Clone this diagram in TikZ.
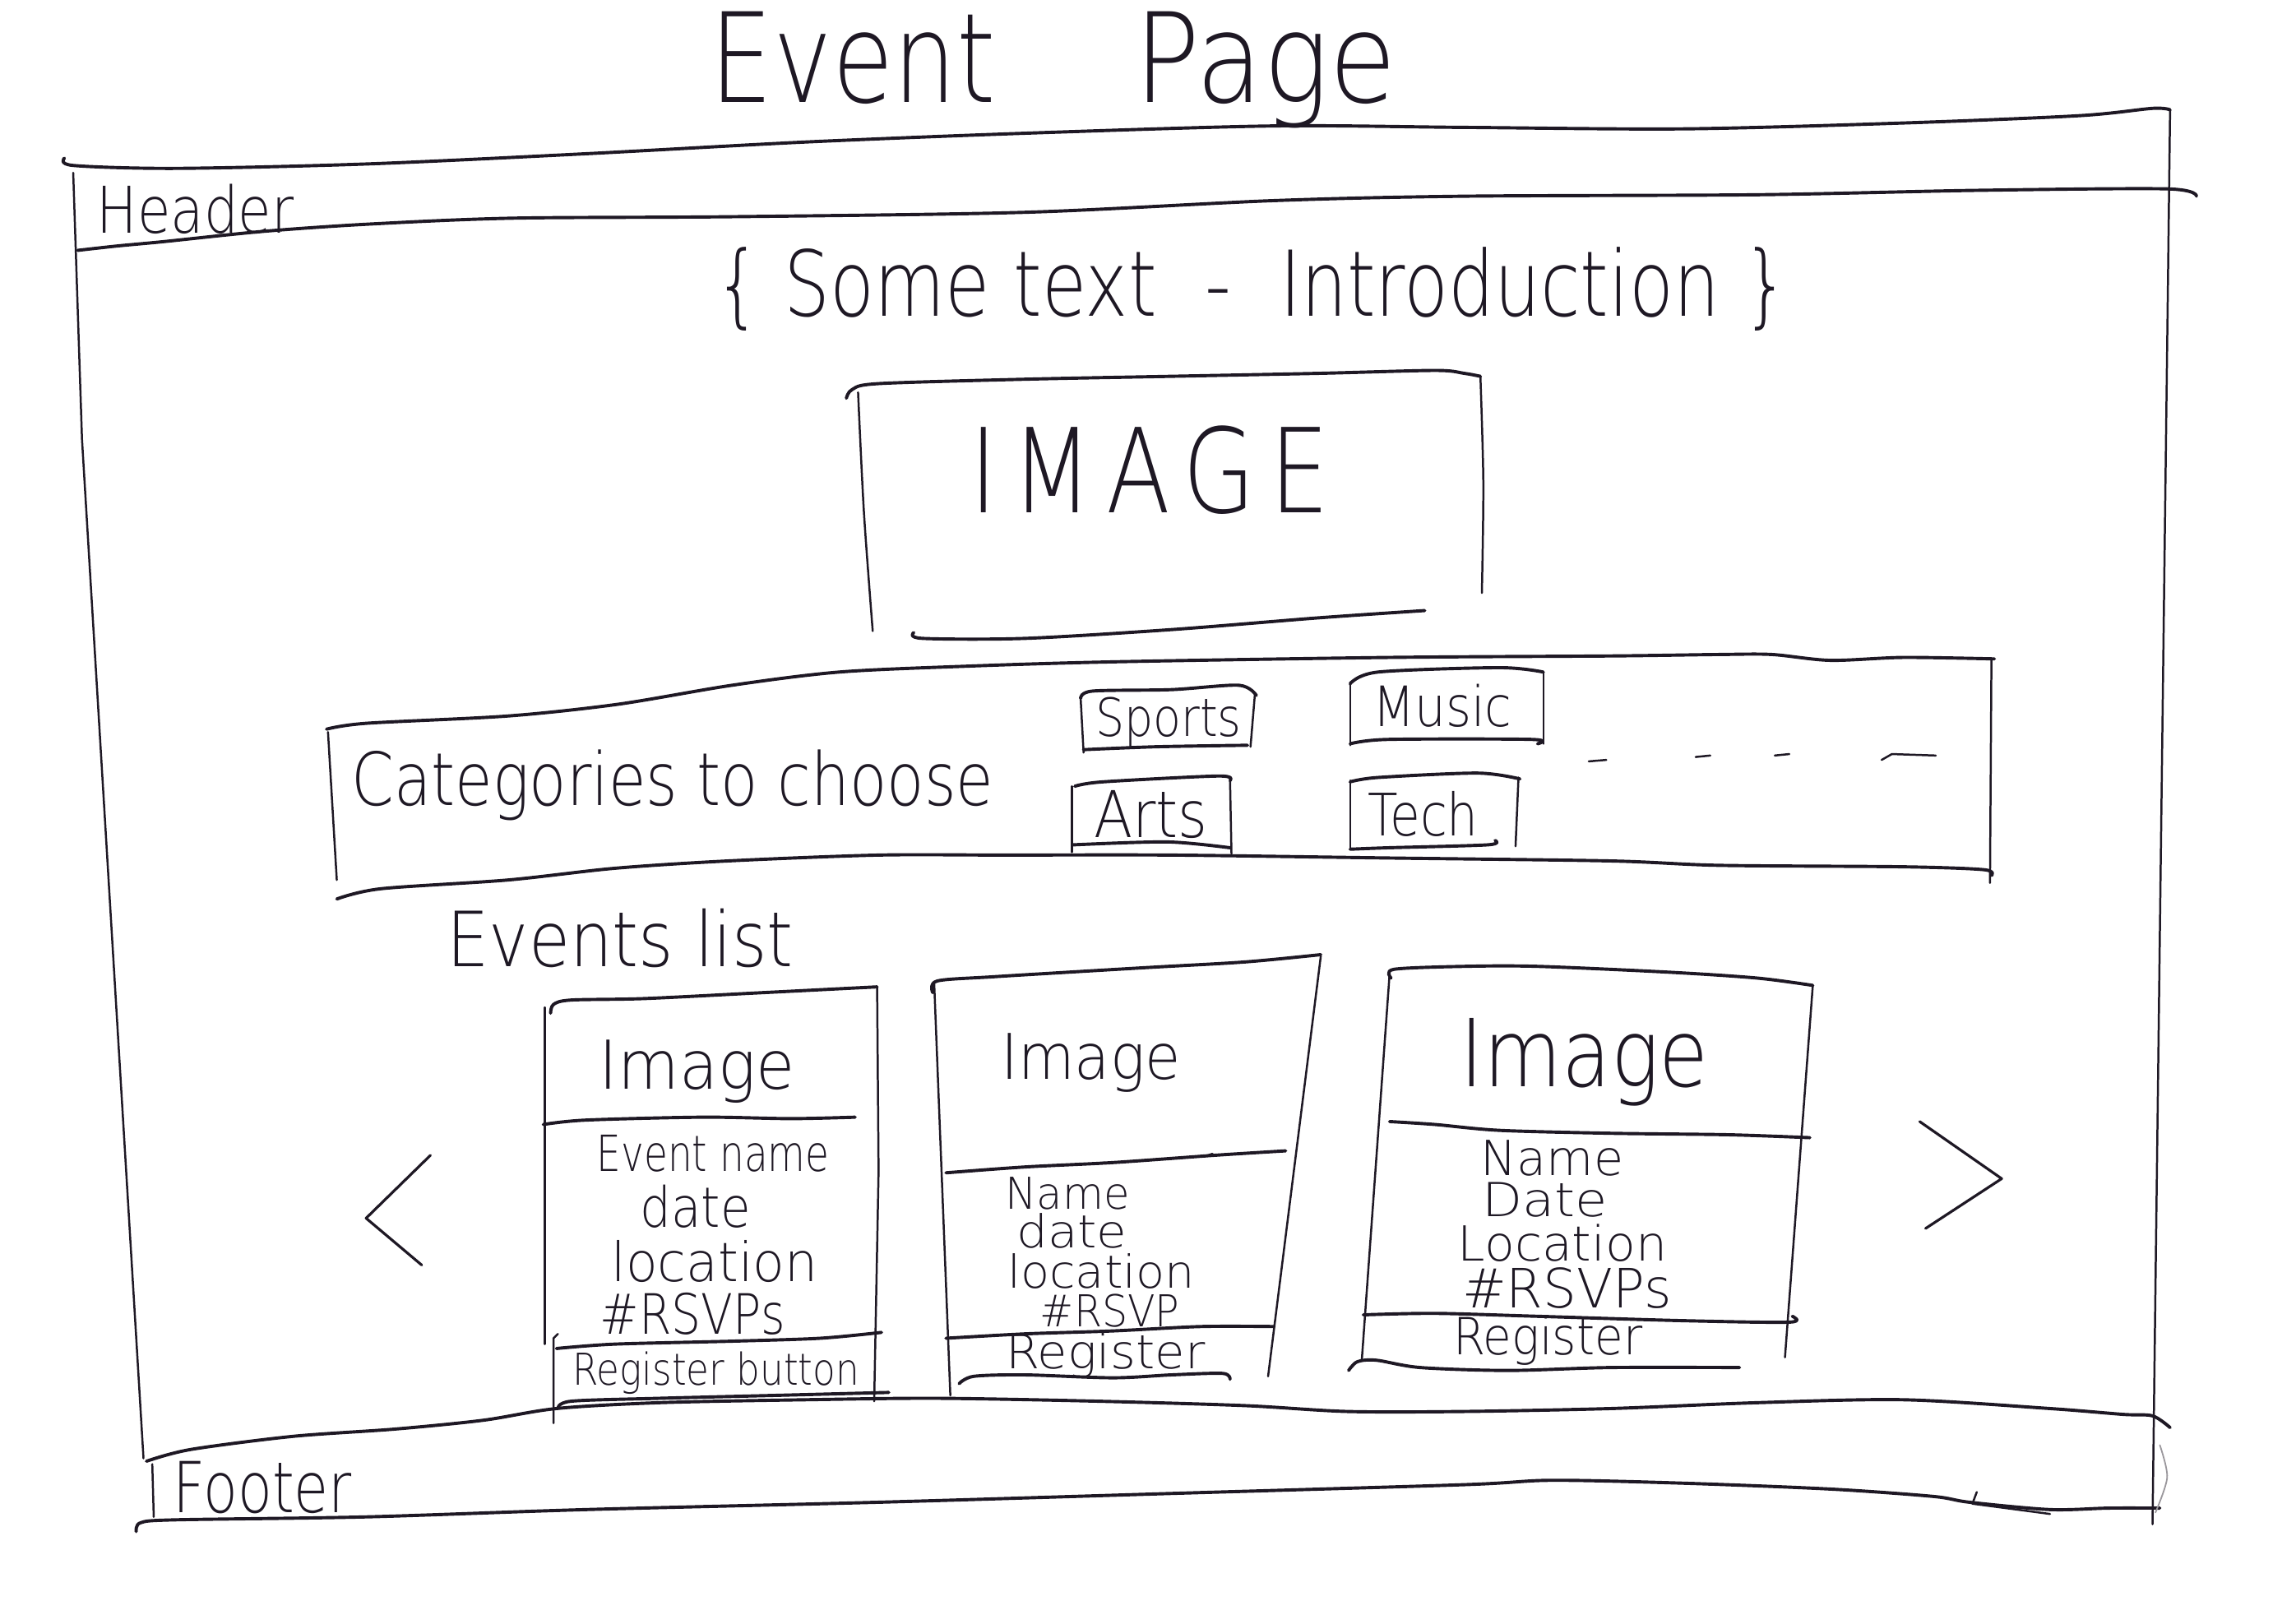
\documentclass[tikz,border=0pt]{standalone}
\usepackage{fontspec}
\usepackage{graphicx}
\setmainfont{DejaVu Sans ExtraLight}[FakeStretch=0.8]
\newcommand{\penfont}[1]{\fontsize{#1}{#1}\selectfont}
\newcommand{\hstretch}[2]{\scalebox{#1}[1]{#2}}
\definecolor{inkc}{HTML}{1E1824}
\begin{document}
\begin{tikzpicture}[x=1pt,y=-1pt,
  ink/.style={draw=inkc, line width=2.2pt, line cap=round, line join=round},
  side/.style={draw=inkc, line width=1.4pt, line cap=round, line join=round},
  faint/.style={draw=inkc!45, line width=1pt, line cap=round},
  lab/.style={inner sep=0pt, text=inkc, anchor=base},
  labw/.style={lab, anchor=base west}]
\useasboundingbox[fill=white] (0,0) rectangle (1568,1109);

% ---------- title ----------
\node[labw, font=\penfont{85}] (title) at (485,70) {Event\hspace{95pt}\hstretch{1.1}{Page}};

% ---------- page frame ----------
\draw[ink] plot[smooth, tension=.5] coordinates {(44,108) (50,113) (120,115) (250,112) (400,105) (550,97) (700,91) (870,86) (1000,87) (1150,88) (1300,84) (1420,79) (1470,74) (1482,75)};
\draw[side] (50,118) -- (56,300) -- (98,996);
\draw[side] (1482,75) -- (1470,1041);

% header band
\draw[ink] plot[smooth, tension=.5] coordinates {(53,171) (80,168) (112,165) (180,158) (253,153) (350,149) (500,148) (700,145) (870,137) (1000,134) (1200,133) (1350,130) (1480,129) (1500,134)};
\node[labw, font=\penfont{44}] (header) at (66,159) {\hstretch{1.05}{Header}};

% introduction
\node[lab, font=\penfont{62}] (intro) at (855,216) {\{ Some text \;-\; Introduction \}};

% hero image box
\draw[ink] plot[smooth, tension=.5] coordinates {(578,272) (582,266) (600,262) (700,259) (800,257) (900,255) (980,253) (1000,255) (1011,257)};
\draw[side] plot[smooth] coordinates {(1011,257) (1013,330) (1012,405)};
\draw[side] plot[smooth] coordinates {(586,268) (590,350) (596,431)};
\draw[ink] plot[smooth, tension=.5] coordinates {(624,432) (630,436) (700,436) (800,430) (900,422) (973,417)};
\node[lab, font=\penfont{80}\addfontfeature{LetterSpace=12}] (hero) at (785,350) {IMAGE};

% ---------- categories ----------
\draw[ink] plot[smooth, tension=.5] coordinates {(223,498) (250,494) (347,489) (422,481) (500,468) (573,459) (660,455) (761,452) (949,449) (1100,448) (1174,447) (1210,447) (1250,451) (1300,449) (1362,450)};
\draw[side] (1360,450) -- (1359,603);
\draw[side] (224,500) -- (230,601);
\draw[ink] plot[smooth, tension=.5] coordinates {(230,614) (260,607) (347,601) (420,593) (497,588) (600,584) (686,584) (800,584) (949,586) (1100,588) (1174,591) (1300,592) (1355,594) (1360,598)};
\node[labw, font=\penfont{50}] (cats) at (240,550) {\hstretch{1.04}{Categories to choose}};

% Sports
\draw[ink] plot[smooth, tension=.5] coordinates {(738,477) (746,472) (800,471) (846,468) (858,475)};
\draw[side] (738,477) -- (740,514);
\draw[side] (857,474) -- (854,510);
\draw[ink] plot[smooth, tension=.5] coordinates {(740,512) (790,510) (852,509)};
\node[lab, font=\penfont{36}] (sports) at (798,503) {\hstretch{1.08}{Sports}};
% Music
\draw[ink] plot[smooth, tension=.5] coordinates {(922,467) (941,459) (1024,456) (1054,459)};
\draw[side] (1054,459) -- (1054,508);
\draw[side] (922,466) -- (922,509);
\draw[ink] plot[smooth, tension=.5] coordinates {(922,508) (948,505) (1046,505) (1050,508)};
\node[lab, font=\penfont{38}] (music) at (985,496) {\hstretch{1.1}{Music}};
% Arts
\draw[ink] plot[smooth, tension=.5] coordinates {(734,537) (753,534) (832,530) (840,533)};
\draw[side] (732,537) -- (732,582);
\draw[side] (840,532) -- (841,583);
\draw[ink] plot[smooth, tension=.5] coordinates {(733,577) (797,575) (840,579)};
\node[lab, font=\penfont{44}] (arts) at (786,572) {\hstretch{1.1}{Arts}};
% Tech
\draw[ink] plot[smooth, tension=.5] coordinates {(922,534) (941,531) (1009,528) (1038,532)};
\draw[side] (922,533) -- (922,580);
\draw[side] (1037,531) -- (1035,578);
\draw[ink] plot[smooth, tension=.5] coordinates {(922,580) (948,579) (1016,577) (1021,574)};
\node[lab, font=\penfont{40}] (tech) at (972,571) {\hstretch{1.05}{Tech}};
% more categories
\draw[side] (1085,520) -- (1097,519);
\draw[side] (1158,517) -- (1168,516);
\draw[side] (1212,516) -- (1222,515);
\draw[side] (1285,519) -- (1292,515) -- (1322,516);

% ---------- events list ----------
\node[labw, font=\penfont{52}] (evlist) at (305,660) {\hstretch{1.1}{Events list}};

% card 1
\draw[ink] plot[smooth, tension=.5] coordinates {(376,692) (378,686) (390,683) (440,682) (520,678) (599,674)};
\draw[side] (372,688) -- (372,918);
\draw[side] (599,674) -- (600,800) -- (597,957);
\draw[ink] plot[smooth, tension=.5] coordinates {(371,768) (400,765) (480,763) (540,764) (584,763)};
\draw[ink] plot[smooth, tension=.5] coordinates {(380,921) (420,918) (500,916) (560,914) (602,910)};
\draw[side] (381,911) -- (378,914) -- (378,972);
\draw[ink] plot[smooth, tension=.5] coordinates {(381,962) (390,957) (450,955) (530,953) (607,951)};
\node[lab, font=\penfont{46}] (c1img) at (476,744) {\hstretch{1.17}{Image}};
\node[lab, font=\penfont{34}] (c1name) at (487,800) {\hstretch{0.97}{Event name}};
\node[lab, font=\penfont{38}] (c1date) at (475,838) {\hstretch{1.1}{date}};
\node[lab, font=\penfont{37}] (c1loc) at (488,875) {\hstretch{1.2}{location}};
\node[lab, font=\penfont{38}] (c1rsvp) at (473,911) {\hstretch{1.05}{\#RSVPs}};
\node[lab, font=\penfont{30}] (c1reg) at (489,946) {\hstretch{1.06}{Register button}};

% card 2
\draw[ink] plot[smooth, tension=.5] coordinates {(637,678) (640,670) (680,667) (780,661) (850,657) (902,652)};
\draw[side] (638,672) -- (649,953);
\draw[side] (902,653) -- (866,940);
\draw[ink] plot[smooth, tension=.5] coordinates {(646,801) (700,797) (760,794) (830,789) (878,786)};
\draw[side] (748,795) -- (754,794);
\draw[side] (822,790) -- (828,788);
\draw[ink] plot[smooth, tension=.5] coordinates {(646,914) (700,911) (760,909) (820,906) (870,906)};
\draw[ink] plot[smooth, tension=.5] coordinates {(655,945) (665,940) (700,939) (760,941) (800,939) (835,938) (840,942)};
\node[lab, font=\penfont{43}] (c2img) at (745,737) {\hstretch{1.15}{Image}};
\node[lab, font=\penfont{30}] (c2name) at (729,826) {\hstretch{1.2}{Name}};
\node[lab, font=\penfont{31}] (c2date) at (732,852) {\hstretch{1.35}{date}};
\node[lab, font=\penfont{31}] (c2loc) at (752,880) {\hstretch{1.3}{location}};
\node[lab, font=\penfont{30}] (c2rsvp) at (758,906) {\hstretch{1.15}{\#RSVP}};
\node[lab, font=\penfont{32}] (c2reg) at (755,935) {\hstretch{1.3}{Register}};

% card 3
\draw[ink] plot[smooth, tension=.5] coordinates {(950,668) (952,662) (1000,660) (1050,660) (1140,664) (1200,668) (1238,673)};
\draw[side] (949,665) -- (930,929);
\draw[side] (1238,673) -- (1219,927);
\draw[ink] plot[smooth, tension=.5] coordinates {(949,766) (980,768) (1024,772) (1100,774) (1180,775) (1236,777)};
\draw[ink] plot[smooth, tension=.5] coordinates {(931,898) (980,897) (1050,899) (1150,902) (1222,903) (1224,899)};
\draw[ink] plot[smooth, tension=.5] coordinates {(921,936) (927,930) (940,929) (970,934) (1030,936) (1100,934) (1188,934)};
\node[lab, font=\penfont{64}] (c3img) at (1082,742) {\hstretch{1.07}{Image}};
\node[lab, font=\penfont{33}] (c3name) at (1060,803) {\hstretch{1.25}{Name}};
\node[lab, font=\penfont{32}] (c3date) at (1055,831) {\hstretch{1.4}{Date}};
\node[lab, font=\penfont{33}] (c3loc) at (1067,861) {\hstretch{1.28}{Location}};
\node[lab, font=\penfont{37}] (c3rsvp) at (1070,893) {\hstretch{1.22}{\#RSVPs}};
\node[lab, font=\penfont{35}] (c3reg) at (1057,925) {\hstretch{1.13}{Register}};

% carousel arrows
\draw[side, line width=1.8pt] (294,789) -- (250,832) -- (288,864);
\draw[side, line width=1.8pt] (1311,766) -- (1367,805) -- (1315,839);

% ---------- footer ----------
\draw[ink] plot[smooth, tension=.5] coordinates {(100,998) (130,990) (200,981) (270,976) (330,970) (380,962) (450,958) (550,956) (640,955) (750,957) (850,960) (920,964) (1000,964) (1100,962) (1200,958) (1300,956) (1400,962) (1450,966) (1470,967) (1482,975)};
\draw[side] (104,1000) -- (105,1036);
\draw[ink] plot[smooth, tension=.5] coordinates {(93,1046) (96,1040) (120,1038) (250,1036) (400,1031) (600,1026) (800,1020) (1000,1014) (1060,1011) (1150,1013) (1250,1017) (1320,1022) (1345,1026) (1400,1031) (1440,1030) (1475,1030)};
\draw[side] (1350,1019) -- (1347,1027) -- (1400,1034);
\draw[faint] plot[smooth] coordinates {(1475,987) (1480,1009) (1472,1033)};
\node[labw, font=\penfont{48}] (footer) at (118,1033) {Footer};

\end{tikzpicture}
\end{document}
